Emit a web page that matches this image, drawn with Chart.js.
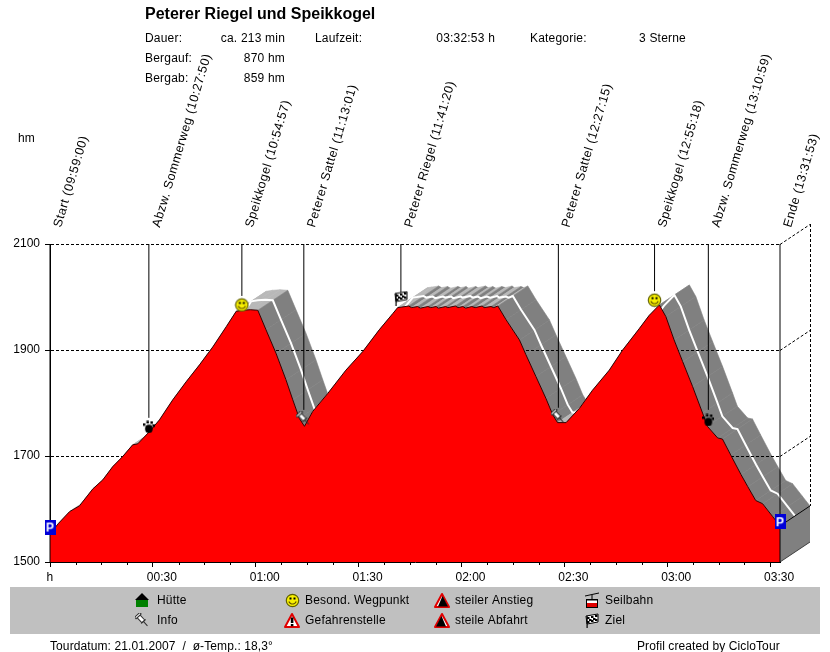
<!DOCTYPE html>
<html>
<head>
<meta charset="utf-8">
<script src="https://cdn.jsdelivr.net/npm/chart.js@4"></script>
<style>
html, body { margin: 0; padding: 0; background: #fff; }
canvas { display: block; }
</style>
</head>
<body>
<canvas id="chart_profile" width="830" height="652"></canvas>
<script>
// height profile, minutes since start / metres
let profileMinutes = [0, 2.5, 5.7, 8.6, 12.5, 15.4, 18.3, 21.2, 24.1, 25.6, 29, 31.9, 35.8, 39.7, 43.6, 47.5, 51.4, 54.3, 56.2, 58.4, 60.6, 63, 65.9, 68.8, 70.8, 72.7, 74.2, 76.6, 81, 86.3, 91.2, 96, 100, 101.4, 102.6, 104.6, 105.4, 107.2, 108, 110.2, 111, 112.6, 113.2, 115.4, 116, 118.2, 119, 120.4, 121.2, 123, 124, 126, 126.6, 128.6, 129.4, 130.6, 133, 136.9, 138.8, 141.7, 144.6, 146.6, 148, 150.5, 154.4, 158.2, 163.1, 167, 171.8, 174.7, 177.7, 179.6, 182, 184.5, 187.4, 190.3, 191.7, 194.7, 196.1, 198.5, 201.5, 203.5, 205.8, 207.8, 210.7, 212.88];
let profileHeight = [1553, 1573, 1595, 1606, 1638, 1655, 1680, 1699, 1721, 1723, 1746, 1768, 1806, 1840, 1872, 1906, 1944, 1973, 1975, 1976, 1975, 1938, 1894, 1844, 1806, 1771, 1756, 1784, 1818, 1862, 1897, 1938, 1969, 1980, 1981, 1983, 1980, 1982, 1979, 1982, 1980, 1982, 1979, 1982, 1980, 1983, 1980, 1982, 1979, 1982, 1980, 1983, 1980, 1982, 1980, 1983, 1957, 1919, 1891, 1850, 1809, 1778, 1763, 1763, 1790, 1824, 1862, 1900, 1940, 1965, 1985, 1963, 1919, 1878, 1831, 1781, 1756, 1734, 1732, 1702, 1665, 1642, 1616, 1610, 1586, 1568];

// waypoints: time, icon height, where the stem stops, label, icon
let wayMinutes = [0, 28.83, 55.95, 74.02, 102.33, 148.25, 176.3, 191.98, 212.88];
let wayIconHeight = [1566, 1755, 1985, 1770, 1998, 1774, 1994, 1768, 1576];
let wayStemBase = [1500, 1772, 2002, 1787, 2007, 1791, 2011, 1787, 1500];
let wayLabels = ['Start (09:59:00)', 'Abzw. Sommerweg (10:27:50)', 'Speikkogel (10:54:57)', 'Peterer Sattel (11:13:01)', 'Peterer Riegel (11:41:20)', 'Peterer Sattel (12:27:15)', 'Speikkogel (12:55:18)', 'Abzw. Sommerweg (13:10:59)', 'Ende (13:31:53)'];
let wayIcons = ['parking', 'paw', 'smiley', 'pin', 'flag', 'pin', 'smiley', 'paw', 'parking'];

let yTicks = [1500, 1700, 1900, 2100];
let xTickLabels = ['h', '00:30', '01:00', '01:30', '02:00', '02:30', '03:00', '03:30'];

let infoRows = [
    ['Dauer:', 'ca. 213 min', 'Laufzeit:', '03:32:53 h', 'Kategorie:', '3 Sterne'],
    ['Bergauf:', '870 hm'],
    ['Bergab:', '859 hm']
];
let legendIcons = ['house', 'pin', 'smiley', 'danger', 'up', 'down', 'cable', 'flag'];
let legendLabels = ['Hütte', 'Info', 'Besond. Wegpunkt', 'Gefahrenstelle', 'steiler Anstieg', 'steile Abfahrt', 'Seilbahn', 'Ziel'];

let FONT = '"Liberation Sans", Arial, sans-serif';
let DEPTH_X = 30, DEPTH_Y = -20;

function makeIcon(w, h, paint) {
    let c = document.createElement('canvas');
    c.width = w;
    c.height = h;
    paint(c.getContext('2d'));
    return c;
}

function triangle(c, stroke, fill) {
    c.beginPath();
    c.moveTo(8, 2);
    c.lineTo(15, 15);
    c.lineTo(1, 15);
    c.closePath();
    c.fillStyle = fill;
    c.fill();
    c.lineWidth = 2;
    c.lineJoin = 'round';
    c.strokeStyle = stroke;
    c.stroke();
}

let icons = {
    parking: makeIcon(11, 15, c => {
        c.fillStyle = '#0000d8';
        c.fillRect(0, 0, 11, 15);
        c.fillStyle = '#fff';
        c.font = 'bold 12px ' + FONT;
        c.textAlign = 'center';
        c.fillText('P', 5.5, 12);
    }),
    smiley: makeIcon(15, 15, c => {
        c.beginPath();
        c.arc(7.5, 7.5, 6.2, 0, Math.PI * 2);
        c.fillStyle = '#f8f000';
        c.fill();
        c.strokeStyle = '#606000';
        c.lineWidth = 1.2;
        c.stroke();
        c.fillStyle = '#000';
        c.fillRect(4.5, 4.5, 2, 2);
        c.fillRect(8.5, 4.5, 2, 2);
        c.beginPath();
        c.arc(7.5, 7, 4, 0.4, Math.PI - 0.4);
        c.strokeStyle = '#605000';
        c.stroke();
    }),
    paw: makeIcon(12, 13, c => {
        c.fillStyle = '#000';
        c.beginPath();
        c.ellipse(6, 8.5, 3.8, 4.2, 0, 0, Math.PI * 2);
        c.fill();
        c.fillRect(0, 3, 2.5, 2.5);
        c.fillRect(3.5, 0.5, 2.5, 2.5);
        c.fillRect(7.5, 1, 2.5, 2.5);
        c.fillRect(9.5, 4, 2.5, 2.5);
    }),
    pin: makeIcon(15, 15, c => {
        c.save();
        c.translate(7, 7);
        c.rotate(-0.75);
        c.fillStyle = '#fff';
        c.strokeStyle = '#303030';
        c.lineWidth = 1;
        c.fillRect(-2, -5, 4, 7);
        c.strokeRect(-2, -5, 4, 7);
        c.fillRect(-3.5, -7, 7, 2);
        c.strokeRect(-3.5, -7, 7, 2);
        c.beginPath();
        c.moveTo(-3, 2);
        c.lineTo(3, 2);
        c.moveTo(0, 2);
        c.lineTo(0, 8);
        c.stroke();
        c.restore();
    }),
    flag: makeIcon(14, 15, c => {
        c.fillStyle = '#fff';
        c.strokeStyle = '#000';
        c.beginPath();
        c.moveTo(1, 3);
        c.lineTo(13, 1);
        c.lineTo(13, 9);
        c.lineTo(2, 11);
        c.closePath();
        c.fill();
        c.stroke();
        c.fillStyle = '#000';
        [[2, 4], [6, 3], [10, 2], [4, 6], [8, 5], [2, 8], [6, 7], [10, 6]].forEach(p => c.fillRect(p[0], p[1], 2.5, 2));
        c.fillRect(1.5, 3, 1.2, 12);
    }),
    house: makeIcon(14, 15, c => {
        c.fillStyle = '#008000';
        c.fillRect(1, 6, 12, 8);
        c.fillStyle = '#000';
        c.beginPath();
        c.moveTo(7, 0);
        c.lineTo(14, 7);
        c.lineTo(0, 7);
        c.closePath();
        c.fill();
    }),
    danger: makeIcon(16, 17, c => {
        triangle(c, '#e00000', '#fff');
        c.fillStyle = '#000';
        c.fillRect(6.8, 5.5, 2.6, 5.5);
        c.fillRect(6.8, 12, 2.6, 2.2);
    }),
    up: makeIcon(16, 17, c => {
        triangle(c, '#e00000', '#fff');
        c.fillStyle = '#000';
        c.beginPath();
        c.moveTo(8.5, 4);
        c.lineTo(14, 14.5);
        c.lineTo(4, 14.5);
        c.closePath();
        c.fill();
    }),
    down: makeIcon(16, 17, c => {
        triangle(c, '#e00000', '#fff');
        c.fillStyle = '#000';
        c.beginPath();
        c.moveTo(7.5, 4);
        c.lineTo(12, 14.5);
        c.lineTo(2, 14.5);
        c.closePath();
        c.fill();
    }),
    cable: makeIcon(16, 17, c => {
        c.strokeStyle = '#000';
        c.lineWidth = 1;
        c.beginPath();
        c.moveTo(1, 4);
        c.lineTo(15, 1);
        c.moveTo(8, 3);
        c.lineTo(8, 7);
        c.stroke();
        c.fillStyle = '#fff';
        c.fillRect(2.5, 7.5, 11, 8);
        c.strokeRect(2.5, 7.5, 11, 8);
        c.fillStyle = '#e00000';
        c.fillRect(3, 11, 10, 4);
        c.fillStyle = '#000';
        c.fillRect(2, 7, 12, 1.5);
    })
};

function text(c, str, x, y, font, align) {
    c.font = font || '12px ' + FONT;
    c.textAlign = align || 'left';
    c.textBaseline = 'alphabetic';
    c.fillStyle = '#000';
    c.fillText(str, x, y);
}

// 3D ribbon behind the profile, plus the back wall
let depthPlugin = {
    id: 'depth',
    beforeDraw(chart) {
        let c = chart.ctx, xs = chart.scales.x, ys = chart.scales.y;
        let px = profileMinutes.map(v => xs.getPixelForValue(v));
        let py = profileHeight.map(v => ys.getPixelForValue(v));
        let n = px.length;
        c.save();
        c.fillStyle = '#fff';
        c.fillRect(0, 0, chart.width, chart.height);
        for (let i = 0; i < n - 1; i++) {
            let lit = profileHeight[i + 1] >= profileHeight[i] - 1;
            c.fillStyle = c.strokeStyle = lit ? '#b8b8b8' : '#808080';
            c.lineWidth = 0.6;
            c.beginPath();
            c.moveTo(px[i], py[i]);
            c.lineTo(px[i + 1], py[i + 1]);
            c.lineTo(px[i + 1] + DEPTH_X, py[i + 1] + DEPTH_Y);
            c.lineTo(px[i] + DEPTH_X, py[i] + DEPTH_Y);
            c.closePath();
            c.fill();
            c.stroke();
        }
        // white line in the middle of the ribbon
        c.strokeStyle = '#fff';
        c.lineWidth = 2;
        c.beginPath();
        for (let i = 0; i < n; i++) {
            let mx = px[i] + DEPTH_X / 2, my = py[i] + DEPTH_Y / 2;
            if (i == 0) c.moveTo(mx, my); else c.lineTo(mx, my);
        }
        c.stroke();

        // end face
        let r = xs.right, b = ys.bottom, endY = py[n - 1];
        c.fillStyle = '#808080';
        c.beginPath();
        c.moveTo(r, b);
        c.lineTo(r + DEPTH_X, b + DEPTH_Y);
        c.lineTo(r + DEPTH_X, endY + DEPTH_Y);
        c.lineTo(r, endY);
        c.closePath();
        c.fill();
        c.strokeStyle = '#000';
        c.lineWidth = 1;
        c.beginPath();
        c.moveTo(r, endY);
        c.lineTo(r + DEPTH_X, endY + DEPTH_Y);
        c.stroke();
        c.strokeStyle = '#404040';
        c.beginPath();
        c.moveTo(r, b);
        c.lineTo(r + DEPTH_X, b + DEPTH_Y);
        c.stroke();

        // back wall dashes
        c.strokeStyle = '#000';
        c.setLineDash([3, 2]);
        yTicks.slice(1).forEach(v => {
            let y = Math.round(ys.getPixelForValue(v)) + 0.5;
            c.beginPath();
            c.moveTo(r, y);
            c.lineTo(r + DEPTH_X, y + DEPTH_Y);
            c.stroke();
        });
        c.beginPath();
        c.moveTo(r + DEPTH_X + 0.5, ys.top + DEPTH_Y);
        c.lineTo(r + DEPTH_X + 0.5, endY + DEPTH_Y);
        c.stroke();
        c.restore();
    },
    afterDraw(chart) {
        let c = chart.ctx, xs = chart.scales.x, ys = chart.scales.y;
        c.save();
        // minor ticks
        c.strokeStyle = '#000';
        c.lineWidth = 1;
        for (let i = 0; i < 4 * 7; i++) {
            if (i % 4 == 0) continue;
            let x = Math.round(xs.getPixelForValue(i * 7.5)) + 0.5;
            c.beginPath();
            c.moveTo(x, ys.bottom);
            c.lineTo(x, ys.bottom + 3);
            c.stroke();
        }

        // header
        text(c, 'Peterer Riegel und Speikkogel', 145, 19, 'bold 16px ' + FONT);
        c.letterSpacing = '0.2px';
        let f = '12px ' + FONT;
        text(c, infoRows[0][0], 145, 42, f);
        text(c, infoRows[0][1], 285, 42, f, 'right');
        text(c, infoRows[0][2], 315, 42, f);
        text(c, infoRows[0][3], 495, 42, f, 'right');
        text(c, infoRows[0][4], 530, 42, f);
        text(c, infoRows[0][5], 639, 42, f);
        text(c, infoRows[1][0], 145, 62, f);
        text(c, infoRows[1][1], 285, 62, f, 'right');
        text(c, infoRows[2][0], 145, 82, f);
        text(c, infoRows[2][1], 285, 82, f, 'right');
        text(c, 'hm', 18, 142, f);
        text(c, xTickLabels[0], xs.left, 581, f, 'center');

        // waypoint labels
        wayLabels.forEach((label, i) => {
            c.save();
            c.translate(xs.getPixelForValue(wayMinutes[i]) + 11, 228);
            c.rotate(-73.5 * Math.PI / 180);
            c.letterSpacing = '0.5px';
            text(c, label, 0, 0, '12.5px ' + FONT);
            c.restore();
        });

        // legend box
        c.fillStyle = '#c0c0c0';
        c.fillRect(10, 587, 810, 47);
        legendLabels.forEach((label, i) => {
            let col = Math.floor(i / 2), row = i % 2;
            let ic = icons[legendIcons[i]];
            let cx = 142 + col * 150, cy = 600 + row * 20;
            c.drawImage(ic, Math.round(cx - ic.width / 2), Math.round(cy - ic.height / 2));
            text(c, label, (col == 0 ? 157 : 155 + col * 150), cy + 4, f);
        });

        // footer
        c.letterSpacing = '0.1px';
        text(c, 'Tourdatum: 21.01.2007  /  ø-Temp.: 18,3°', 50, 650, f);
        text(c, 'Profil created by CicloTour', 637, 650, f);
        c.restore();
    }
};

// stems: up from the icon to the top line, gaps between them
let stemData = [];
wayMinutes.forEach((t, i) => {
    stemData.push({ x: t, y: wayStemBase[i] }, { x: t, y: 2100 }, { x: t, y: null });
});

let ctx_profile = document.getElementById('chart_profile');

let chart_profile = new Chart(ctx_profile, {
    type: 'line',
    data: {
        datasets: [{
            label: 'Wegpunkte',
            data: wayMinutes.map((t, i) => ({ x: t, y: wayIconHeight[i] })),
            showLine: false,
            pointStyle: wayIcons.map(n => icons[n]),
            pointRadius: 6,
            clip: false
        }, {
            label: 'Stems',
            data: stemData,
            borderColor: '#000',
            borderWidth: 1,
            pointRadius: 0,
            spanGaps: false,
            clip: false
        }, {
            label: 'Profil',
            data: profileMinutes.map((t, i) => ({ x: t, y: profileHeight[i] })),
            borderColor: '#300000',
            borderWidth: 1,
            backgroundColor: '#ff0000',
            pointRadius: 0,
            fill: 'start',
            tension: 0
        }]
    },
    plugins: [depthPlugin],
    options: {
        responsive: false,
        animation: false,
        devicePixelRatio: 1,
        layout: { padding: { top: 244, right: 50, left: 0, bottom: 0 } },
        plugins: { legend: { display: false }, tooltip: { enabled: false } },
        scales: {
            x: {
                type: 'linear',
                min: 0,
                max: 212.88,
                afterFit(s) { s.height = 90; },
                border: { color: '#000' },
                grid: { drawOnChartArea: false, tickColor: '#000', tickLength: 5 },
                ticks: {
                    stepSize: 30,
                    includeBounds: false,
                    maxRotation: 0,
                    autoSkip: false,
                    padding: 3,
                    labelOffset: 9,
                    color: '#000',
                    font: { family: FONT, size: 12 },
                    callback: v => v == 0 ? '' : xTickLabels[v / 30]
                }
            },
            y: {
                min: 1500,
                max: 2100,
                afterFit(s) { s.width = 50; },
                border: { color: '#000', dash: [3, 2] },
                grid: { color: '#000', tickColor: '#000', tickLength: 5, tickBorderDash: [] },
                ticks: {
                    stepSize: 200,
                    padding: 5,
                    color: '#000',
                    font: { family: FONT, size: 12 },
                    callback: v => String(v)
                }
            }
        }
    }
});
</script>
</body>
</html>
